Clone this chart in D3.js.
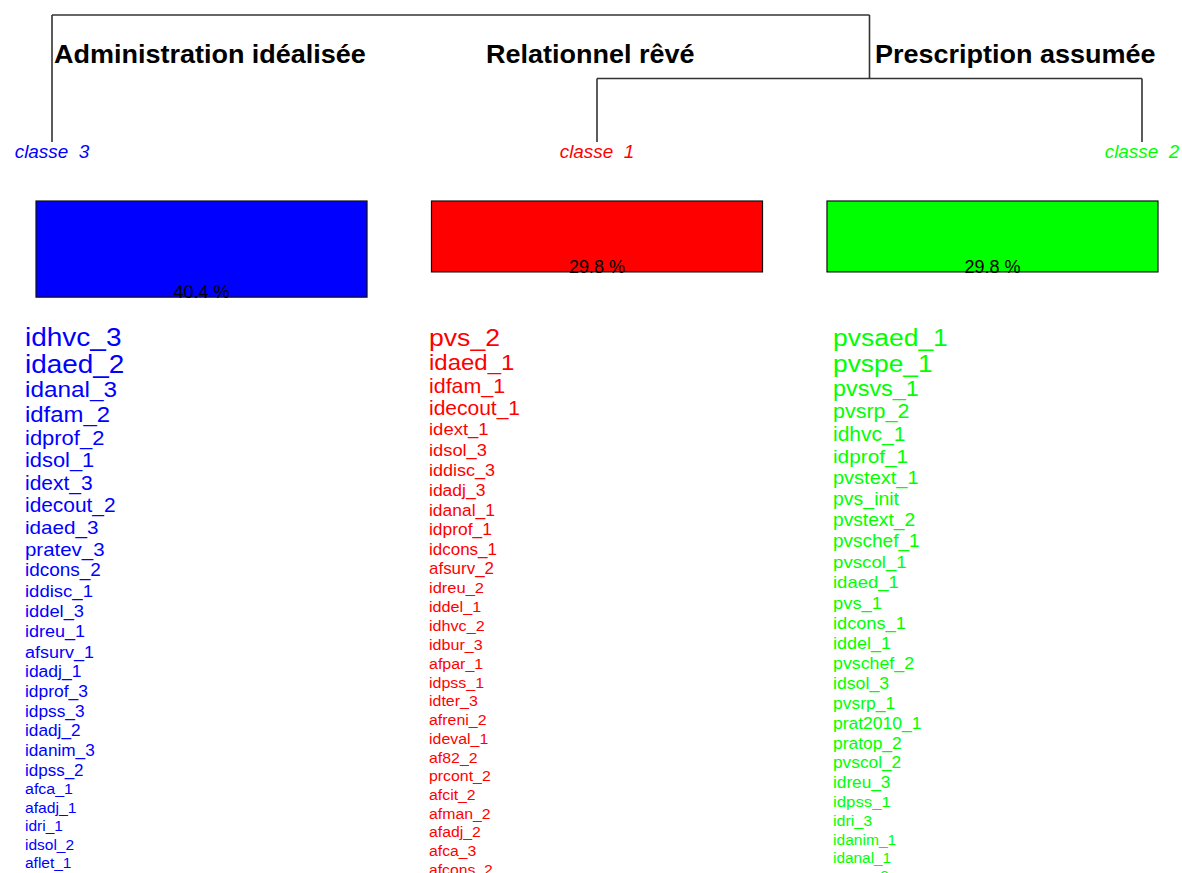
<!DOCTYPE html>
<html><head><meta charset="utf-8">
<script src="https://cdn.jsdelivr.net/npm/d3@7"></script>
<style>body{margin:0;background:#fff}svg{display:block;background:#fff}text{white-space:pre}</style>
</head><body>
<svg id="chart" width="1182" height="873"></svg>
<script>
// ---------------- data ----------------
const classIds = ["3", "1", "2"];                       // column order (dendrogram order)
const leafLabels = ["classe  3", "classe  1", "classe  2"];
const classTitles = ["Administration idéalisée", "Relationnel rêvé", "Prescription assumée"];
const classPct = [40.4, 29.8, 29.8];
const classColors = ["#0000ff", "#ff0000", "#00ff00"];

// dendrogram merge heights (relative)
const mergeTree = { height: 1, children: [ { leaf: "3", height: 0 },
  { height: 0.5, children: [ { leaf: "1", height: 0 }, { leaf: "2", height: 0 } ] } ] };

// class 3 (blue)
const words3 = ["idhvc_3","idaed_2","idanal_3","idfam_2","idprof_2","idsol_1","idext_3","idecout_2","idaed_3","pratev_3",
  "idcons_2","iddisc_1","iddel_3","idreu_1","afsurv_1","idadj_1","idprof_3","idpss_3","idadj_2","idanim_3",
  "idpss_2","afca_1","afadj_1","idri_1","idsol_2","aflet_1"];
const chi3 = [75,74.5,58,56,47,46.5,42.5,42,41,40,33,31,30,28.6,28.5,26.3,26,25.3,25,24.8,24,19.3,17.9,17,16.9,16.8];

// class 1 (red)
const words1 = ["pvs_2","idaed_1","idfam_1","idecout_1","idext_1","idsol_3","iddisc_3","idadj_3","idanal_1","idprof_1",
  "idcons_1","afsurv_2","idreu_2","iddel_1","idhvc_2","idbur_3","afpar_1","idpss_1","idter_3","afreni_2",
  "ideval_1","af82_2","prcont_2","afcit_2","afman_2","afadj_2","afca_3","afcons_2"];
const chi1 = [68.5,56.4,44.4,42.5,30.9,30,28.6,26.3,26,25.8,23.9,23.7,21.6,20.2,20,19.7,19.3,19.2,19.1,19,
  18.9,18.8,18.7,18.6,18.5,18.4,18.3,18.0];

// class 2 (green)
const words2 = ["pvsaed_1","pvspe_1","pvsvs_1","pvsrp_2","idhvc_1","idprof_1","pvstext_1","pvs_init","pvstext_2","pvschef_1",
  "pvscol_1","idaed_1","pvs_1","idcons_1","iddel_1","pvschef_2","idsol_3","pvsrp_1","prat2010_1","pratop_2",
  "pvscol_2","idreu_3","idpss_1","idri_3","idanim_1","idanal_1","pvsvs_2"];
const chi2 = [68,67.5,53.6,44.8,42.5,41.6,37.9,35.5,34.1,33.2,31.8,30.9,30.4,29.5,28.6,27.6,27.2,26.3,26.2,25.8,
  25.3,24.9,23,19.3,17.4,16.5,15.6];

const classWords = [words3, words1, words2];
const classChi = [chi3, chi1, chi2];

// ---------------- layout ----------------
const SX = 1.08;           // horizontal glyph stretch of the original rendering
const FONT = "'Liberation Sans', Arial, sans-serif";
const svg = d3.select("#chart");

const leafX = d3.scalePoint().domain(classIds).range([52, 1142]);
const heightY = d3.scaleLinear().domain([0, 1]).range([142, 15]);
const boxX = d3.scaleBand().domain(classIds).range([36, 1158]).paddingInner(0.163).paddingOuter(0);
const boxH = d3.scaleLinear().domain([0, 100]).range([0, 238]);
const boxTop = 201;
const wordX = d3.scalePoint().domain(classIds).range([25, 833]);
const chiToSize = d3.scaleLinear().domain([10, 75]).range([14, 28]);
const firstBaseline = 346;
const titleX = [54, 486, 875];   // text anchors of the class titles
const titleY = 63;

function stretched(sel, x, y) {
  sel.attr("transform", `translate(${x},${y}) scale(${SX},1)`);
  return sel;
}

// ---------------- dendrogram ----------------
const root = d3.hierarchy(mergeTree);
root.eachAfter(n => {
  n.px = n.children ? d3.mean(n.children, c => c.px) : leafX(n.data.leaf);
  n.py = heightY(n.data.height);
});
const gDen = svg.append("g").attr("fill", "none").attr("stroke", "#333").attr("stroke-width", 1.6);
root.each(n => {
  if (!n.children) return;
  const xs = n.children.map(c => c.px);
  gDen.append("line").attr("x1", d3.min(xs)).attr("x2", d3.max(xs)).attr("y1", n.py).attr("y2", n.py);
  n.children.forEach(c => {
    gDen.append("line").attr("x1", c.px).attr("x2", c.px).attr("y1", n.py).attr("y2", c.py);
  });
});

// leaf labels
classIds.forEach((id, i) => {
  stretched(svg.append("text"), leafX(id), 158)
    .attr("text-anchor", "middle").attr("xml:space", "preserve")
    .attr("font-family", FONT).attr("font-style", "italic").attr("font-size", 17.5)
    .attr("fill", classColors[i]).text(leafLabels[i]);
});

// titles
classTitles.forEach((t, i) => {
  stretched(svg.append("text"), titleX[i], titleY)
    .attr("font-family", FONT).attr("font-weight", "bold").attr("font-size", 25)
    .attr("fill", "#000").text(t);
});

// ---------------- boxes ----------------
classIds.forEach((id, i) => {
  const h = boxH(classPct[i]);
  svg.append("rect").attr("x", boxX(id)).attr("y", boxTop)
    .attr("width", boxX.bandwidth()).attr("height", h)
    .attr("fill", classColors[i]).attr("stroke", "#111").attr("stroke-width", 1.2);
  svg.append("text").attr("x", boxX(id) + boxX.bandwidth() / 2).attr("y", boxTop + h + 1)
    .attr("text-anchor", "middle").attr("font-family", FONT).attr("font-size", 18)
    .attr("fill", "#000").text(classPct[i].toFixed(1) + " %");
});

// ---------------- word lists ----------------
classIds.forEach((id, i) => {
  const words = classWords[i], chis = classChi[i];
  let y = firstBaseline;
  words.forEach((w, k) => {
    const s = chiToSize(chis[k]);
    if (k > 0) y += 0.684 * s + 7.85;
    stretched(svg.append("text"), wordX(id), y)
      .attr("font-family", FONT).attr("font-size", s / SX)
      .attr("fill", classColors[i]).text(w);
  });
});
</script>
</body></html>
